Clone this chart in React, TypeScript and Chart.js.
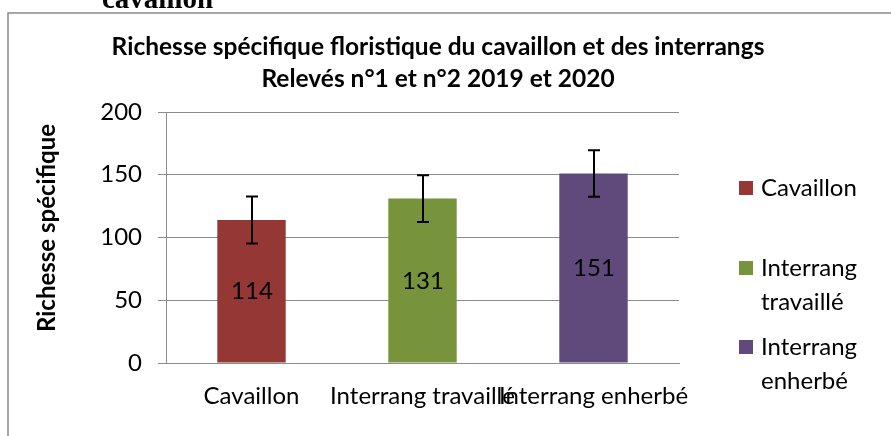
import React, { useEffect, useRef } from "react";
import { Chart, registerables } from "chart.js";

Chart.register(...registerables);

const categories = ["Cavaillon", "Interrang travaillé", "Interrang enherbé"];
const richness = [114, 131, 151];
const errors = [18.7, 18.6, 18.6];
const barColors = ["#953735", "#77933C", "#604A7B"];
const yMin = 0;
const yMax = 200;
const yStep = 50;
const titleLines = [
  "Richesse spécifique floristique du cavaillon et des interrangs",
  "Relevés n°1 et n°2 2019 et 2020",
];
const yTitle = "Richesse spécifique";
const legendLines = [["Cavaillon"], ["Interrang", "travaillé"], ["Interrang", "enherbé"]];
const headerFragment = "cavaillon";

const FONT = "Lato, 'Liberation Sans', sans-serif";
const GRID = "#8c8c8c";

const decor = {
  id: "decor",
  beforeDraw(chart: any) {
    const ctx = chart.ctx;
    ctx.save();
    ctx.fillStyle = "#fff";
    ctx.fillRect(0, 0, chart.width, chart.height);
    ctx.restore();
  },
  afterDatasetsDraw(chart: any) {
    const ctx = chart.ctx;
    const y = chart.scales.y;
    const meta = chart.getDatasetMeta(0);
    ctx.save();
    meta.data.forEach((bar: any, i: number) => {
      const cx = Math.round(bar.x);
      const hi = y.getPixelForValue(richness[i] + errors[i]);
      const lo = y.getPixelForValue(richness[i] - errors[i]);
      ctx.strokeStyle = "#000";
      ctx.lineWidth = 2;
      ctx.beginPath();
      ctx.moveTo(cx, hi);
      ctx.lineTo(cx, lo);
      ctx.moveTo(cx - 6, hi);
      ctx.lineTo(cx + 6, hi);
      ctx.moveTo(cx - 6, lo);
      ctx.lineTo(cx + 6, lo);
      ctx.stroke();
      const mid = y.getPixelForValue(richness[i] / 2);
      ctx.fillStyle = "#000";
      ctx.font = `24px ${FONT}`;
      ctx.textAlign = "center";
      ctx.textBaseline = "middle";
      ctx.fillText(String(richness[i]), cx, mid);
    });
    ctx.restore();
  },
  afterDraw(chart: any) {
    const ctx = chart.ctx;
    ctx.save();
    // outer frame (top and left edges visible)
    ctx.strokeStyle = "#8a8a8a";
    ctx.lineWidth = 1.5;
    ctx.beginPath();
    ctx.moveTo(8, chart.height + 2);
    ctx.lineTo(8, 13);
    ctx.lineTo(chart.width + 2, 13);
    ctx.stroke();
    // cut-off document text
    ctx.fillStyle = "#000";
    ctx.font = "bold 29px 'Liberation Serif', serif";
    ctx.textAlign = "left";
    ctx.textBaseline = "alphabetic";
    ctx.fillText(headerFragment, 102, 8);
    // title
    ctx.font = `bold 24.5px ${FONT}`;
    ctx.textAlign = "center";
    ctx.textBaseline = "middle";
    ctx.fillText(titleLines[0], 438, 47);
    ctx.fillText(titleLines[1], 438, 79);
    // y title
    ctx.save();
    ctx.translate(47, 228);
    ctx.rotate(-Math.PI / 2);
    ctx.font = `bold 24px ${FONT}`;
    ctx.fillText(yTitle, 0, 0);
    ctx.restore();
    // legend
    const entryY = [188, 268, 347];
    legendLines.forEach((lines, i) => {
      const y0 = entryY[i];
      ctx.fillStyle = barColors[i];
      ctx.fillRect(739, y0 - 7, 14, 14);
      ctx.fillStyle = "#000";
      ctx.font = `24px ${FONT}`;
      ctx.textAlign = "left";
      ctx.textBaseline = "middle";
      lines.forEach((t, j) => ctx.fillText(t, 761, y0 + j * 34));
    });
    ctx.restore();
  },
};

export default function App() {
  const ref = useRef<HTMLCanvasElement>(null);
  useEffect(() => {
    if (!ref.current) return;
    const chart = new Chart(ref.current, {
      type: "bar",
      data: {
        labels: categories,
        datasets: [
          {
            label: "Richesse spécifique",
            data: richness,
            backgroundColor: barColors,
            borderWidth: 0,
            categoryPercentage: 1,
            barPercentage: 0.4,
          },
        ],
      },
      options: {
        responsive: false,
        animation: false,
        devicePixelRatio: 1,
        layout: { padding: { top: 112, right: 212, bottom: 0, left: 0 } },
        plugins: {
          legend: { display: false },
          title: { display: false },
          tooltip: { enabled: false },
        },
        scales: {
          x: {
            grid: { display: false, drawTicks: false },
            border: { display: true, color: GRID, width: 1 },
            ticks: {
              autoSkip: false,
              maxRotation: 0,
              minRotation: 0,
              color: "#000",
              font: { family: FONT, size: 24 },
              padding: 19,
            },
            afterFit(s: any) {
              s.height = 73;
            },
          },
          y: {
            min: yMin,
            max: yMax,
            ticks: {
              stepSize: yStep,
              color: "#000",
              font: { family: FONT, size: 24 },
              padding: 16,
            },
            grid: { color: GRID, lineWidth: 1, tickLength: 8, drawTicks: true },
            border: { display: true, color: GRID, width: 1 },
            afterFit(s: any) {
              s.width = 166;
            },
          },
        },
      },
      plugins: [decor],
    });
    return () => chart.destroy();
  }, []);
  return (
    <div style={{ position: "absolute", left: 0, top: 0, width: 891, height: 436 }}>
      <canvas ref={ref} width={891} height={436} style={{ display: "block" }} />
    </div>
  );
}
